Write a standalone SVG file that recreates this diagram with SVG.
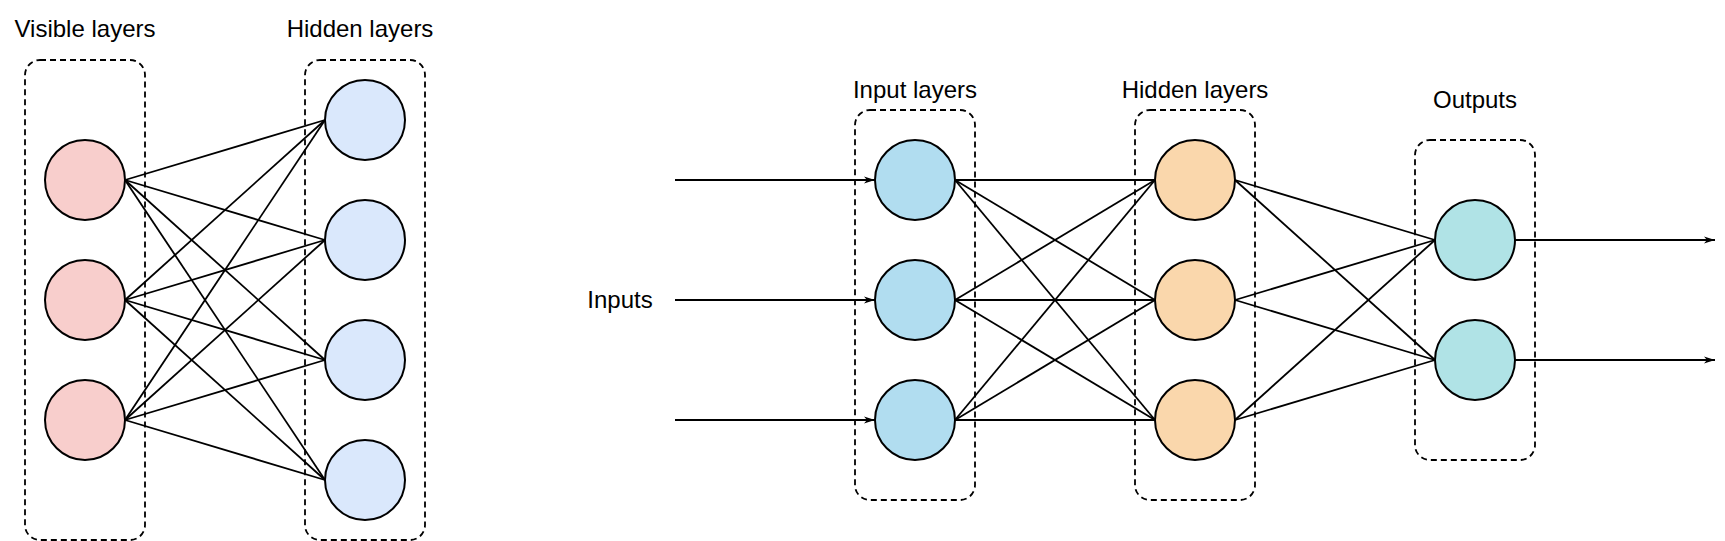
<svg xmlns="http://www.w3.org/2000/svg" width="1725" height="541" viewBox="0 0 1725 541">
<style>
  .lbl { font-family: "Liberation Sans", Arial, sans-serif; font-size: 24px; fill: #000; text-anchor: middle; }
  .box { fill: none; stroke: #000; stroke-width: 1.8; stroke-dasharray: 6 4; }
  .nd { stroke: #000; stroke-width: 2; }
  .vis { fill: #f8cecc; }
  .hid { fill: #dae8fc; }
  .inp { fill: #b1ddf0; }
  .hid2 { fill: #fad7ac; }
  .out { fill: #b0e3e6; }
  .edge { stroke: #000; stroke-width: 1.8; fill: none; }
  .arr { marker-end: url(#ah); }
</style>
<defs>
  <marker id="ah" markerUnits="userSpaceOnUse" markerWidth="12" markerHeight="9" refX="11" refY="4" orient="auto">
    <path d="M0,0.5 L11,4 L0,7.5 L3,4 z" fill="#000"/>
  </marker>
</defs>
<rect width="1725" height="541" fill="#fff"/>

<g id="connectors">
  <!-- left panel: visible -> hidden -->
  <line class="edge" x1="125" y1="180" x2="325" y2="120"/>
  <line class="edge" x1="125" y1="180" x2="325" y2="240"/>
  <line class="edge" x1="125" y1="180" x2="325" y2="360"/>
  <line class="edge" x1="125" y1="180" x2="325" y2="480"/>
  <line class="edge" x1="125" y1="300" x2="325" y2="120"/>
  <line class="edge" x1="125" y1="300" x2="325" y2="240"/>
  <line class="edge" x1="125" y1="300" x2="325" y2="360"/>
  <line class="edge" x1="125" y1="300" x2="325" y2="480"/>
  <line class="edge" x1="125" y1="420" x2="325" y2="120"/>
  <line class="edge" x1="125" y1="420" x2="325" y2="240"/>
  <line class="edge" x1="125" y1="420" x2="325" y2="360"/>
  <line class="edge" x1="125" y1="420" x2="325" y2="480"/>
  <!-- inputs -->
  <line class="edge arr" x1="675" y1="180" x2="875" y2="180"/>
  <line class="edge arr" x1="675" y1="300" x2="875" y2="300"/>
  <line class="edge arr" x1="675" y1="420" x2="875" y2="420"/>
  <!-- input -> hidden -->
  <line class="edge" x1="955" y1="180" x2="1155" y2="180"/>
  <line class="edge" x1="955" y1="180" x2="1155" y2="300"/>
  <line class="edge" x1="955" y1="180" x2="1155" y2="420"/>
  <line class="edge" x1="955" y1="300" x2="1155" y2="180"/>
  <line class="edge" x1="955" y1="300" x2="1155" y2="300"/>
  <line class="edge" x1="955" y1="300" x2="1155" y2="420"/>
  <line class="edge" x1="955" y1="420" x2="1155" y2="180"/>
  <line class="edge" x1="955" y1="420" x2="1155" y2="300"/>
  <line class="edge" x1="955" y1="420" x2="1155" y2="420"/>
  <!-- hidden -> outputs -->
  <line class="edge" x1="1235" y1="180" x2="1435" y2="240"/>
  <line class="edge" x1="1235" y1="180" x2="1435" y2="360"/>
  <line class="edge" x1="1235" y1="300" x2="1435" y2="240"/>
  <line class="edge" x1="1235" y1="300" x2="1435" y2="360"/>
  <line class="edge" x1="1235" y1="420" x2="1435" y2="240"/>
  <line class="edge" x1="1235" y1="420" x2="1435" y2="360"/>
  <!-- outputs -->
  <line class="edge arr" x1="1515" y1="240" x2="1715" y2="240"/>
  <line class="edge arr" x1="1515" y1="360" x2="1715" y2="360"/>
</g>

<g id="visible-layers">
  <rect class="box" x="25" y="60" width="120" height="480" rx="15"/>
  <text class="lbl" x="85" y="37">Visible layers</text>
</g>
<g id="v1"><circle class="nd vis" cx="85" cy="180" r="40"/></g>
<g id="v2"><circle class="nd vis" cx="85" cy="300" r="40"/></g>
<g id="v3"><circle class="nd vis" cx="85" cy="420" r="40"/></g>

<g id="hidden-layers-left">
  <rect class="box" x="305" y="60" width="120" height="480" rx="15"/>
  <text class="lbl" x="360" y="37">Hidden layers</text>
</g>
<g id="h1"><circle class="nd hid" cx="365" cy="120" r="40"/></g>
<g id="h2"><circle class="nd hid" cx="365" cy="240" r="40"/></g>
<g id="h3"><circle class="nd hid" cx="365" cy="360" r="40"/></g>
<g id="h4"><circle class="nd hid" cx="365" cy="480" r="40"/></g>

<g id="inputs-label">
  <text class="lbl" x="620" y="308">Inputs</text>
</g>

<g id="input-layers">
  <rect class="box" x="855" y="110" width="120" height="390" rx="15"/>
  <text class="lbl" x="915" y="98">Input layers</text>
</g>
<g id="i1"><circle class="nd inp" cx="915" cy="180" r="40"/></g>
<g id="i2"><circle class="nd inp" cx="915" cy="300" r="40"/></g>
<g id="i3"><circle class="nd inp" cx="915" cy="420" r="40"/></g>

<g id="hidden-layers-right">
  <rect class="box" x="1135" y="110" width="120" height="390" rx="15"/>
  <text class="lbl" x="1195" y="98">Hidden layers</text>
</g>
<g id="r1"><circle class="nd hid2" cx="1195" cy="180" r="40"/></g>
<g id="r2"><circle class="nd hid2" cx="1195" cy="300" r="40"/></g>
<g id="r3"><circle class="nd hid2" cx="1195" cy="420" r="40"/></g>

<g id="outputs">
  <rect class="box" x="1415" y="140" width="120" height="320" rx="15"/>
  <text class="lbl" x="1475" y="108">Outputs</text>
</g>
<g id="o1"><circle class="nd out" cx="1475" cy="240" r="40"/></g>
<g id="o2"><circle class="nd out" cx="1475" cy="360" r="40"/></g>
</svg>
